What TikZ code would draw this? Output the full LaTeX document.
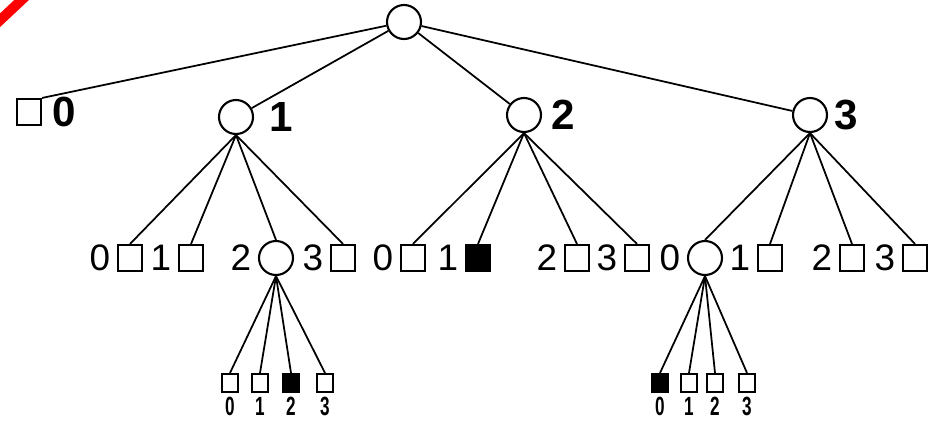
\documentclass[tikz,border=0pt]{standalone}
\usepackage{fontspec}
\setmainfont{Liberation Sans}
\newfontfamily\narrowfont[FakeStretch=0.65]{Liberation Sans}
\usetikzlibrary{positioning}

\tikzset{every picture/.style={line width=1pt}}
\tikzset{
    inner/.style={circle, draw, line width=1.2pt, minimum size=0.68cm, inner sep=0pt},
    leaf/.style={rectangle, draw, line width=1.2pt, minimum width=0.48cm, minimum height=0.52cm, inner sep=0pt},
    hit/.style={leaf, fill=black},
    tiny/.style={rectangle, draw, line width=1.2pt, minimum width=0.32cm, minimum height=0.36cm, inner sep=0pt},
    tinyhit/.style={tiny, fill=black},
    biglab/.style={font=\bfseries\fontsize{24}{24}\selectfont, inner sep=0pt},
    midlab/.style={font=\fontsize{21}{21}\selectfont, inner sep=0pt},
    smalllab/.style={font=\narrowfont\bfseries\fontsize{15}{15}\selectfont, inner sep=0pt},
}

\begin{document}
\begin{tikzpicture}[x=0.02cm, y=-0.02cm]
    \useasboundingbox (0,0) rectangle (930,420);
    \begin{scope}
        \clip (0,0) rectangle (930,420);
        \draw[red, line width=0.2cm] (-4,24) -- (28,-6);
    \end{scope}

    % root and first level
    \node[inner] (root) at (404,22) {};
    \node[leaf]  (s0) at (29,112) {};
    \node[inner] (c1) at (236,117) {};
    \node[inner] (c2) at (524,115) {};
    \node[inner] (c3) at (810,115) {};
    \node[biglab, right=0.2cm of s0] {0};
    \node[biglab, right=0.3cm of c1] {1};
    \node[biglab, right=0.18cm of c2] {2};
    \node[biglab, right=0.12cm of c3] {3};
    \draw (root) -- (s0.north east);
    \foreach \c in {c1,c2,c3}
        \draw (root) -- (\c);

    % second level
    \node[leaf]  (a0) at (130,258) {};
    \node[leaf]  (a1) at (191,258) {};
    \node[inner] (a2) at (276,258) {};
    \node[leaf]  (a3) at (343,258) {};
    \node[leaf]  (b0) at (413,258) {};
    \node[hit]   (b1) at (478,258) {};
    \node[leaf]  (b2) at (577,258) {};
    \node[leaf]  (b3) at (637,258) {};
    \node[inner] (d0) at (705,258) {};
    \node[leaf]  (d1) at (770,258) {};
    \node[leaf]  (d2) at (852,258) {};
    \node[leaf]  (d3) at (915,258) {};
    \foreach \p/\k in {c1/a, c2/b, c3/d}
        \foreach \i in {0,1,2,3} {
            \draw (\p.south) -- (\k\i.north);
            \node[midlab, left=0.12cm of \k\i] {\i};
        }

    % third level
    \node[tiny]    (e0) at (230,383) {};
    \node[tiny]    (e1) at (260,383) {};
    \node[tinyhit] (e2) at (291,383) {};
    \node[tiny]    (e3) at (325,383) {};
    \node[tinyhit] (f0) at (660,383) {};
    \node[tiny]    (f1) at (689,383) {};
    \node[tiny]    (f2) at (715,383) {};
    \node[tiny]    (f3) at (747,383) {};
    \foreach \p/\k in {a2/e, d0/f}
        \foreach \i in {0,1,2,3} {
            \draw (\p.south) -- (\k\i.north);
            \node[smalllab, below=0.06cm of \k\i] {\i};
        }
\end{tikzpicture}
\end{document}
